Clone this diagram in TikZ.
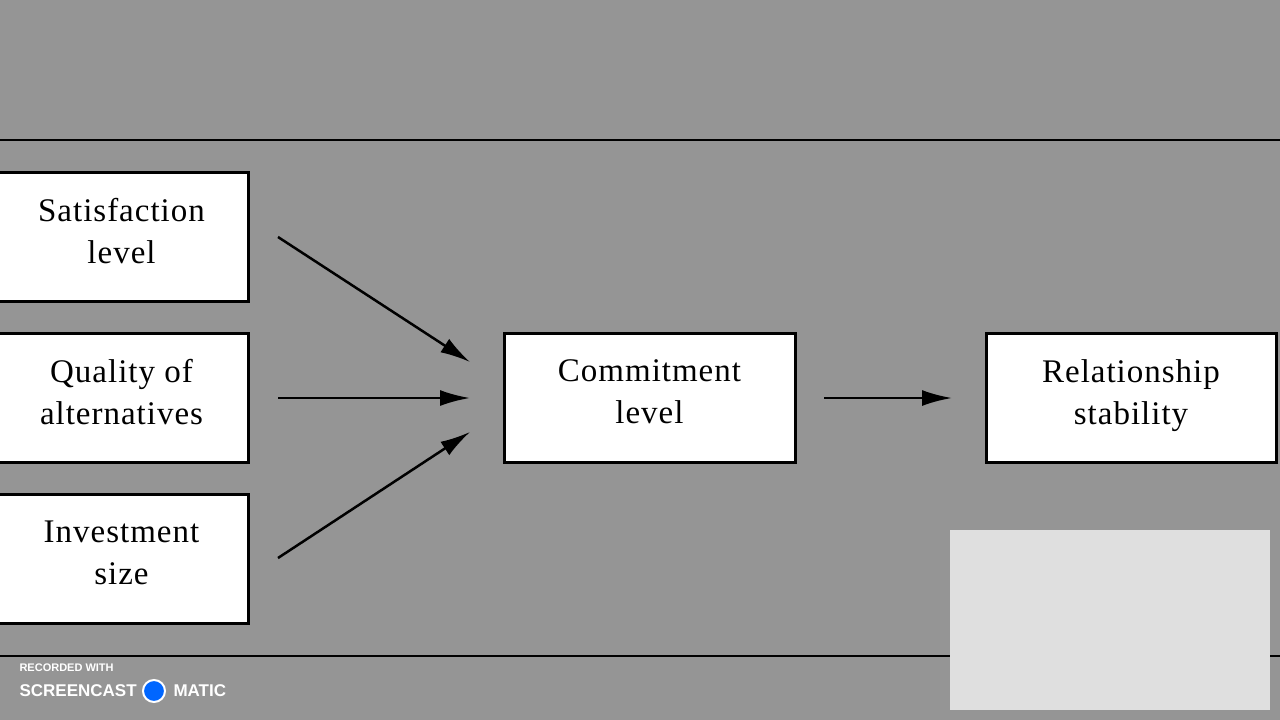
\documentclass[tikz,border=0pt]{standalone}
\usepackage{fontspec}
\setmainfont{Liberation Serif}[LetterSpace=3]
\newfontfamily\wm{Liberation Sans}
\usetikzlibrary{arrows.meta}
\definecolor{bg}{HTML}{959595}
\tikzset{
 box/.style={draw=black,line width=3pt,fill=white,minimum width=#1,minimum height=129pt,inner sep=0pt,align=center,font=\fontsize{33}{42}\selectfont,text depth=12pt},
 box/.default=253pt,
 arr/.style={line width=2.5pt,-{Latex[length=30pt,width=16pt]}}
}
\begin{document}
\begin{tikzpicture}[x=1pt,y=-1pt]
\fill[bg] (0,0) rectangle (1280,720);
\useasboundingbox (0,0) rectangle (1280,720);
\draw[line width=1.5pt] (0,140) -- (1280,140);
\draw[line width=1.5pt] (0,656) -- (1280,656);
\node[box] (sat) at (121.5,237) {Satisfaction\\level};
\node[box] (qua) at (121.5,398) {Quality of\\alternatives};
\node[box] (inv) at (121.5,558.5) {Investment\\size};
\node[box=291pt] (com) at (649.5,398) {Commitment\\level};
\node[box=290pt] (rel) at (1131,398) {Relationship\\stability};
\coordinate (a1) at (278,237); \coordinate (b1) at (470,362);
\coordinate (a2) at (278,398); \coordinate (b2) at (470,398);
\coordinate (a3) at (278,558); \coordinate (b3) at (470,432);
\coordinate (a4) at (824,398); \coordinate (b4) at (952,398);
\draw[arr] (a1) -- (b1);
\draw[arr] (a2) -- (b2);
\draw[arr] (a3) -- (b3);
\draw[arr] (a4) -- (b4);
\fill[gray!25] (950,530) rectangle (1270,710);
\node[anchor=west,text=white,font=\wm\bfseries\fontsize{11}{12}\selectfont] (rec) at (16,668) {RECORDED WITH};
\node[anchor=west,text=white,font=\wm\bfseries\fontsize{17}{18}\selectfont] (sc) at (16,691) {SCREENCAST};
\node[circle,draw=white,line width=2pt,fill=blue!60!cyan,minimum size=22pt,inner sep=0pt] (logo) at (154,691) {};
\node[anchor=west,text=white,font=\wm\bfseries\fontsize{17}{18}\selectfont] (mt) at (170,691) {MATIC};
\end{tikzpicture}
\end{document}
